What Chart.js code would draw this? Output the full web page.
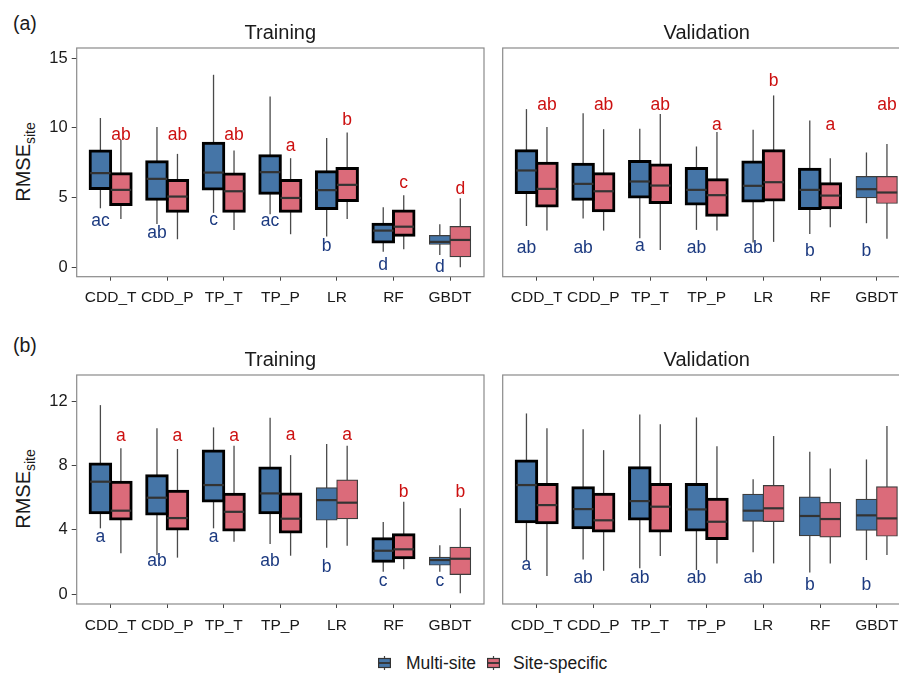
<!DOCTYPE html>
<html>
<head>
<meta charset="utf-8">
<script src="https://cdn.jsdelivr.net/npm/chart.js@4.4.1/dist/chart.umd.min.js"></script>
<style>
  html, body { margin: 0; padding: 0; background: #fff; overflow: hidden; }
  body { width: 899px; height: 673px; position: relative; font-family: "Liberation Sans", Arial, sans-serif; color: #1a1a1a; }
  canvas { position: absolute; }
  .tag { position: absolute; font-size: 19.5px; line-height: 22px; }
  .ytitle { position: absolute; font-size: 20px; white-space: nowrap; transform: translate(-50%, -50%) rotate(-90deg); }
  .ytitle sub { font-size: 14px; }
  .key { position: absolute; }
  .keytext { position: absolute; font-size: 17.5px; line-height: 20px; white-space: nowrap; }
</style>
</head>
<body>
<div class="tag" style="left:13px; top:12px;">(a)</div>
<div class="tag" style="left:13px; top:334px;">(b)</div>
<div class="ytitle" style="left:25px; top:162px;">RMSE<sub>site</sub></div>
<div class="ytitle" style="left:25px; top:489px;">RMSE<sub>site</sub></div>

<canvas id="aTrain" width="490" height="320" style="left:0; top:0;"></canvas>
<canvas id="aValid" width="425" height="320" style="left:490px; top:0;"></canvas>
<canvas id="bTrain" width="490" height="320" style="left:0; top:320px;"></canvas>
<canvas id="bValid" width="425" height="320" style="left:490px; top:320px;"></canvas>

<svg class="key" width="13" height="14" style="left:378px; top:656px;">
  <line x1="6.5" y1="0" x2="6.5" y2="14" stroke="#444" stroke-width="1.2"/>
  <rect x="0.6" y="2.5" width="11.8" height="9" fill="#4575a7" stroke="#333" stroke-width="1.2"/>
  <line x1="0.6" y1="7" x2="12.4" y2="7" stroke="#333" stroke-width="1.8"/>
</svg>
<div class="keytext" style="left:406px; top:653px;">Multi-site</div>
<svg class="key" width="13" height="14" style="left:487px; top:656px;">
  <line x1="6.5" y1="0" x2="6.5" y2="14" stroke="#444" stroke-width="1.2"/>
  <rect x="0.6" y="2.5" width="11.8" height="9" fill="#db6b7a" stroke="#333" stroke-width="1.2"/>
  <line x1="0.6" y1="7" x2="12.4" y2="7" stroke="#333" stroke-width="1.8"/>
</svg>
<div class="keytext" style="left:513px; top:653px;">Site-specific</div>

<script>
const categories = ['CDD_T', 'CDD_P', 'TP_T', 'TP_P', 'LR', 'RF', 'GBDT'];

// each entry: [lower whisker, Q1, median, Q3, upper whisker]
const aTrainMulti = [[4.23, 5.64, 6.75, 8.33, 10.7], [3.11, 4.88, 6.34, 7.56, 10.05], [3.9, 5.62, 6.79, 8.9, 13.8],
  [3.8, 5.31, 6.82, 7.99, 12.25], [2.2, 4.21, 5.53, 6.84, 9.26], [1.12, 1.82, 2.63, 3.09, 4.31], [0.88, 1.65, 1.82, 2.27, 3.09]];
const aTrainSite = [[3.47, 4.5, 5.55, 6.7, 9.14], [2.01, 4.02, 5.07, 6.22, 8.13], [2.68, 4.02, 5.45, 6.68, 8.37],
  [2.37, 4.02, 4.97, 6.22, 7.82], [3.47, 4.78, 5.91, 7.08, 9.66], [1.29, 2.3, 2.91, 4.04, 5.17], [0, 0.76, 1.96, 2.91, 4.95]];
const aValidMulti = [[2.96, 5.36, 6.94, 8.35, 11.34], [3.49, 4.88, 5.98, 7.39, 11.05], [2.08, 5.03, 6.15, 7.58, 9.93],
  [2.68, 4.54, 5.55, 7.08, 8.66], [1.77, 4.76, 5.84, 7.54, 9.86], [2.39, 4.21, 5.55, 7.03, 10.52], [3.16, 5.0, 5.6, 6.5, 8.23]];
const aValidSite = [[2.63, 4.4, 5.62, 7.46, 10.05], [2.63, 4.06, 5.45, 6.7, 9.9], [1.24, 4.64, 5.86, 7.34, 10.98],
  [2.63, 3.73, 5.17, 6.27, 9.69], [1.82, 4.83, 6.1, 8.35, 12.32], [2.87, 4.26, 5.14, 5.98, 7.82], [2.05, 4.59, 5.36, 6.5, 8.83]];
const bTrainMulti = [[4.1, 5.07, 7.01, 8.11, 11.79], [2.43, 4.99, 6.01, 7.38, 10.34], [4.1, 5.8, 6.8, 8.92, 10.4],
  [3.12, 5.07, 6.28, 7.86, 11.0], [2.89, 4.62, 5.86, 6.63, 9.36], [1.39, 2.04, 2.7, 3.45, 4.49], [1.39, 1.81, 2.12, 2.29, 3.04]];
const bTrainSite = [[2.54, 4.68, 5.2, 6.97, 9.09], [2.27, 4.05, 4.74, 6.41, 9.05], [3.26, 3.99, 5.13, 6.22, 9.25],
  [2.39, 3.87, 4.7, 6.24, 8.67], [3.01, 4.7, 5.7, 7.11, 9.25], [1.54, 2.27, 2.79, 3.7, 5.76], [0.04, 1.23, 2.2, 2.91, 5.35]];
const bValidMulti = [[2.12, 4.51, 6.8, 8.3, 11.27], [2.16, 4.14, 5.3, 6.63, 10.29], [1.6, 4.68, 5.8, 7.88, 11.21],
  [1.5, 3.99, 5.28, 6.84, 11.02], [2.6, 4.55, 5.2, 6.22, 7.17], [1.35, 3.64, 4.87, 6.05, 8.88], [2.12, 3.99, 4.91, 5.91, 8.4]];
const bValidSite = [[1.12, 4.45, 5.55, 6.84, 10.34], [1.45, 3.93, 4.6, 6.22, 8.98], [2.37, 3.93, 5.45, 6.84, 10.59],
  [1.91, 3.47, 4.51, 5.91, 9.23], [1.91, 4.53, 5.35, 6.76, 9.86], [1.91, 3.57, 4.68, 5.7, 7.84], [2.43, 3.62, 4.72, 6.69, 10.48]];

// significance: boxes drawn with a heavy outline
const boldATrain = [1, 1, 1, 1, 1, 1, 0];
const boldAValid = [1, 1, 1, 1, 1, 1, 0];
const boldBTrain = [1, 1, 1, 1, 0, 1, 0];
const boldBValid = [1, 1, 1, 1, 0, 0, 0];

// group letters and the value they sit at
const aTrainMultiLetters = ['ac', 'ab', 'c', 'ac', 'b', 'd', 'd'];
const aTrainMultiLetterY = [3.32, 2.44, 3.4, 3.32, 1.48, 0.17, 0.04];
const aTrainSiteLetters = ['ab', 'ab', 'ab', 'a', 'b', 'c', 'd'];
const aTrainSiteLetterY = [9.5, 9.5, 9.5, 8.7, 10.57, 6.03, 5.62];
const aValidMultiLetters = ['ab', 'ab', 'a', 'ab', 'ab', 'b', 'b'];
const aValidMultiLetterY = [1.36, 1.36, 1.53, 1.36, 1.36, 1.12, 1.12];
const aValidSiteLetters = ['ab', 'ab', 'ab', 'a', 'b', 'a', 'ab'];
const aValidSiteLetterY = [11.65, 11.65, 11.65, 10.17, 13.32, 10.17, 11.65];
const bTrainMultiLetters = ['a', 'ab', 'a', 'ab', 'b', 'c', 'c'];
const bTrainMultiLetterY = [3.54, 2.08, 3.54, 2.08, 1.7, 0.77, 0.77];
const bTrainSiteLetters = ['a', 'a', 'a', 'a', 'a', 'b', 'b'];
const bTrainSiteLetterY = [9.86, 9.86, 9.86, 9.94, 9.94, 6.38, 6.38];
const bValidMultiLetters = ['a', 'ab', 'ab', 'ab', 'ab', 'b', 'b'];
const bValidMultiLetterY = [1.81, 0.98, 0.98, 0.98, 0.98, 0.56, 0.56];

const yTicksA = [0, 5, 10, 15];
const yTicksB = [0, 4, 8, 12];

const FONT = '"Liberation Sans", Arial, sans-serif';
const BLUE = '#4575a7', RED = '#db6b7a';
const BLUE_TXT = '#1c3a80', RED_TXT = '#cc1010';

Chart.defaults.font.family = FONT;
Chart.defaults.color = '#1a1a1a';

// whiskers, medians, letters and panel frame
const boxPlugin = {
  id: 'boxes',
  beforeDatasetsDraw(chart) {
    const ctx = chart.ctx, y = chart.scales.y;
    ctx.save();
    ctx.strokeStyle = '#4a4a4a';
    ctx.lineWidth = 1.3;
    chart.data.datasets.forEach((ds, di) => {
      chart.getDatasetMeta(di).data.forEach((bar, i) => {
        const s = ds.stats[i];
        ctx.beginPath();
        ctx.moveTo(bar.x, y.getPixelForValue(s[0]));
        ctx.lineTo(bar.x, y.getPixelForValue(s[4]));
        ctx.stroke();
      });
    });
    ctx.restore();
  },
  afterDatasetsDraw(chart) {
    const ctx = chart.ctx, y = chart.scales.y;
    ctx.save();
    chart.data.datasets.forEach((ds, di) => {
      chart.getDatasetMeta(di).data.forEach((bar, i) => {
        const m = y.getPixelForValue(ds.stats[i][2]);
        ctx.strokeStyle = '#333';
        ctx.lineWidth = 2.2;
        ctx.beginPath();
        ctx.moveTo(bar.x - bar.width / 2, m);
        ctx.lineTo(bar.x + bar.width / 2, m);
        ctx.stroke();
        if (ds.letters[i]) {
          ctx.fillStyle = ds.letterColor;
          ctx.font = '17.5px ' + FONT;
          ctx.textAlign = 'center';
          ctx.textBaseline = 'middle';
          ctx.fillText(ds.letters[i], bar.x, y.getPixelForValue(ds.letterY[i]));
        }
      });
    });
    ctx.restore();
  },
  afterDraw(chart) {
    const a = chart.chartArea, ctx = chart.ctx;
    ctx.save();
    ctx.strokeStyle = '#8a8a8a';
    ctx.lineWidth = 1.2;
    ctx.strokeRect(a.left, a.top, a.right - a.left, a.bottom - a.top);
    ctx.restore();
  }
};

function boxSet(stats, fill, bold, letters, letterY, letterColor) {
  return {
    data: stats.map((s, i) => ({ x: i, y: [s[1], s[3]] })),
    stats: stats,
    letters: letters,
    letterY: letterY,
    letterColor: letterColor,
    backgroundColor: fill,
    borderColor: c => bold[c.dataIndex] ? '#000' : '#3d3d3d',
    borderWidth: c => bold[c.dataIndex] ? 3 : 1.2,
    inflateAmount: c => bold[c.dataIndex] ? 1.5 : 0.6,
    borderSkipped: false,
    barThickness: 20.5
  };
}

function makePanel(id, p) {
  return new Chart(document.getElementById(id), {
    type: 'bar',
    data: {
      datasets: [
        boxSet(p.multi, BLUE, p.bold, p.multiLetters, p.multiLetterY, BLUE_TXT),
        boxSet(p.site, RED, p.bold, p.siteLetters, p.siteLetterY, RED_TXT)
      ]
    },
    options: {
      responsive: false,
      animation: false,
      layout: { padding: p.pad },
      plugins: {
        legend: { display: false },
        tooltip: { enabled: false },
        title: {
          display: true,
          text: p.title,
          fullSize: false,
          color: '#1a1a1a',
          font: { size: 20, weight: 'normal' },
          padding: { top: p.titleTop, bottom: 3 }
        }
      },
      scales: {
        x: {
          type: 'linear',
          min: -0.6,
          max: 6.6,
          offset: false,
          afterBuildTicks: s => { s.ticks = categories.map((c, i) => ({ value: i })); },
          afterFit: s => { s.height = p.xHeight; },
          ticks: {
            autoSkip: false,
            maxRotation: 0,
            padding: 8,
            font: { size: 15.5 },
            color: '#1a1a1a',
            callback: (v, i) => categories[i]
          },
          grid: { drawOnChartArea: false, drawTicks: true, tickLength: 4, color: '#444', offset: false },
          border: { display: false }
        },
        y: {
          display: p.showY,
          min: p.yMin,
          max: p.yMax,
          afterBuildTicks: s => { s.ticks = p.yTicks.map(v => ({ value: v })); },
          afterFit: s => { s.width = p.showY ? 76.7 : 0; },
          ticks: { padding: 4, font: { size: 16.5 }, color: '#1a1a1a' },
          grid: { drawOnChartArea: false, drawTicks: true, tickLength: 5, color: '#444' },
          border: { display: false }
        }
      }
    },
    plugins: [boxPlugin]
  });
}

makePanel('aTrain', {
  title: 'Training', titleTop: 21, xHeight: 43.3, showY: true,
  pad: { left: 0, right: 6, top: 0, bottom: 0 },
  yMin: -0.675, yMax: 15.72, yTicks: yTicksA, bold: boldATrain,
  multi: aTrainMulti, site: aTrainSite,
  multiLetters: aTrainMultiLetters, multiLetterY: aTrainMultiLetterY,
  siteLetters: aTrainSiteLetters, siteLetterY: aTrainSiteLetterY
});
makePanel('aValid', {
  title: 'Validation', titleTop: 21, xHeight: 43.3, showY: false,
  pad: { left: 12.7, right: 4.3, top: 0, bottom: 0 },
  yMin: -0.675, yMax: 15.72, yTicks: yTicksA, bold: boldAValid,
  multi: aValidMulti, site: aValidSite,
  multiLetters: aValidMultiLetters, multiLetterY: aValidMultiLetterY,
  siteLetters: aValidSiteLetters, siteLetterY: aValidSiteLetterY
});
makePanel('bTrain', {
  title: 'Training', titleTop: 28, xHeight: 36, showY: true,
  pad: { left: 0, right: 6, top: 0, bottom: 0 },
  yMin: -0.624, yMax: 13.67, yTicks: yTicksB, bold: boldBTrain,
  multi: bTrainMulti, site: bTrainSite,
  multiLetters: bTrainMultiLetters, multiLetterY: bTrainMultiLetterY,
  siteLetters: bTrainSiteLetters, siteLetterY: bTrainSiteLetterY
});
makePanel('bValid', {
  title: 'Validation', titleTop: 28, xHeight: 36, showY: false,
  pad: { left: 12.7, right: 4.3, top: 0, bottom: 0 },
  yMin: -0.624, yMax: 13.67, yTicks: yTicksB, bold: boldBValid,
  multi: bValidMulti, site: bValidSite,
  multiLetters: bValidMultiLetters, multiLetterY: bValidMultiLetterY,
  siteLetters: [], siteLetterY: []
});
</script>
</body>
</html>
